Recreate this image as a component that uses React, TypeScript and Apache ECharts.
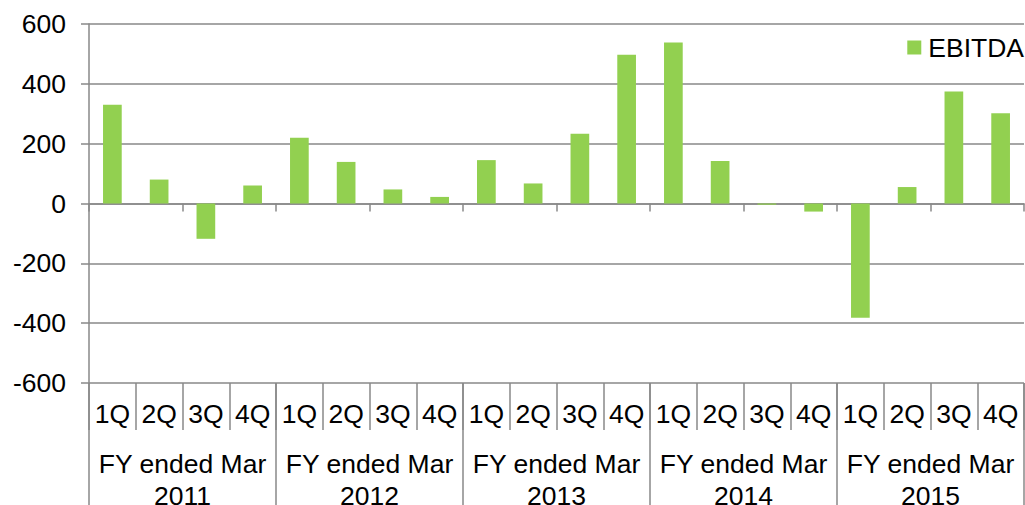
import React, { useEffect, useRef } from "react";
import * as echarts from "echarts";

const quarters: string[] = [
  "1Q", "2Q", "3Q", "4Q",
  "1Q", "2Q", "3Q", "4Q",
  "1Q", "2Q", "3Q", "4Q",
  "1Q", "2Q", "3Q", "4Q",
  "1Q", "2Q", "3Q", "4Q",
];
const fiscalYears: string[] = [
  "FY ended Mar\n2011",
  "FY ended Mar\n2012",
  "FY ended Mar\n2013",
  "FY ended Mar\n2014",
  "FY ended Mar\n2015",
];
const ebitda: number[] = [
  330, 80, -118, 60,
  220, 139, 47, 22,
  145, 67, 233, 497,
  538, 142, -4, -27,
  -382, 55, 374, 302,
];
const yTicks = { min: -600, max: 600, interval: 200 };

const FONT = "'Liberation Sans', Arial, sans-serif";
const FS = 26.5;
const AXIS_GRAY = "#898989";
const GREEN = "#92D050";

export default function App() {
  const ref = useRef<HTMLDivElement>(null);
  useEffect(() => {
    if (!ref.current) return;
    const chart = echarts.init(ref.current, undefined, { renderer: "svg" });
    const qIdx = quarters.map((q, i) => q + "_" + i);
    chart.setOption({
      animation: false,
      textStyle: { fontFamily: FONT },
      grid: {
        left: 89,
        right: 1,
        top: 24,
        bottom: 122,
        containLabel: false,
        outerBoundsMode: "none",
      },
      legend: {
        data: ["EBITDA"],
        right: 1,
        top: 34,
        padding: 0,
        icon: "rect",
        itemWidth: 14,
        itemHeight: 14,
        textStyle: { fontSize: FS, color: "#000", fontFamily: FONT, padding: [0, 0, 0, 2] },
      },
      xAxis: [
        {
          type: "category",
          data: qIdx,
          position: "bottom",
          axisLine: { show: true, onZero: true, lineStyle: { color: AXIS_GRAY, width: 1.5 } },
          axisTick: { show: true, length: 8, lineStyle: { color: AXIS_GRAY, width: 1.5 } },
          axisLabel: { show: false },
          splitLine: { show: false },
        },
        {
          type: "category",
          data: qIdx,
          position: "bottom",
          axisLine: { show: false, onZero: false },
          axisTick: { show: true, length: 47, lineStyle: { color: AXIS_GRAY, width: 1.5 } },
          axisLabel: {
            show: true,
            interval: 0,
            margin: 17,
            fontSize: FS,
            color: "#000",
            fontFamily: FONT,
            formatter: (v: string) => v.split("_")[0],
          },
          splitLine: { show: false },
        },
        {
          type: "category",
          data: fiscalYears,
          position: "bottom",
          axisLine: { show: false, onZero: false },
          axisTick: { show: true, length: 122, lineStyle: { color: AXIS_GRAY, width: 1.5 } },
          axisLabel: {
            show: true,
            interval: 0,
            margin: 65,
            fontSize: FS,
            lineHeight: 32,
            color: "#000",
            fontFamily: FONT,
          },
          splitLine: { show: false },
        },
      ],
      yAxis: {
        type: "value",
        min: yTicks.min,
        max: yTicks.max,
        interval: yTicks.interval,
        axisLine: { show: true, lineStyle: { color: AXIS_GRAY, width: 1.5 } },
        axisTick: { show: true, length: 8, lineStyle: { color: AXIS_GRAY, width: 1.5 } },
        axisLabel: { margin: 23, fontSize: FS, color: "#000", fontFamily: FONT },
        splitLine: { show: true, lineStyle: { color: AXIS_GRAY, width: 1.5 } },
      },
      series: [
        {
          name: "EBITDA",
          type: "bar",
          xAxisIndex: 0,
          data: ebitda,
          barWidth: "40%",
          itemStyle: { color: GREEN },
        },
      ],
    });
    return () => chart.dispose();
  }, []);
  return (
    <div
      ref={ref}
      style={{ position: "absolute", left: 0, top: 0, width: 1025, height: 505, background: "#fff" }}
    />
  );
}
